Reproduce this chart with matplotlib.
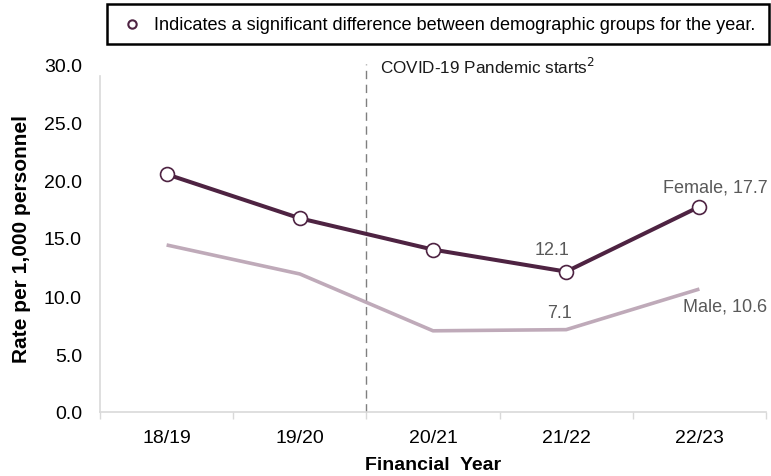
import matplotlib
matplotlib.use("Agg")
import matplotlib.pyplot as plt
from matplotlib.patches import Rectangle
from matplotlib.lines import Line2D

plt.rcParams['font.family'] = ['Liberation Sans', 'DejaVu Sans']

years = ["18/19", "19/20", "20/21", "21/22", "22/23"]
female = [20.5, 16.7, 14.0, 12.1, 17.7]
male = [14.4, 11.9, 7.0, 7.1, 10.6]
yticks = [0.0, 5.0, 10.0, 15.0, 20.0, 25.0, 30.0]

female_color = "#4e2342"
male_color = "#bfaab9"
label_color = "#595959"
axis_color = "#d9d9d9"

fig = plt.figure(figsize=(7.71, 4.77), dpi=100)
W, H = 771, 477
ax = fig.add_axes([100 / W, 1 - 413 / H, 666 / W, 348 / H])

x = list(range(len(years)))
ax.plot(x, male, color=male_color, lw=2.6, solid_capstyle='butt', zorder=2)
ax.plot(x, female, color=female_color, lw=2.9, zorder=3,
        marker='o', markersize=10, markerfacecolor='white',
        markeredgecolor=female_color, markeredgewidth=1.2)

ax.set_xlim(-0.5, len(years) - 0.5)
ax.set_ylim(0, 30)
ax.set_yticks(yticks)
ax.set_yticklabels([f"{v:.1f}" for v in yticks], fontsize=14)
ax.set_xticks(x)
ax.set_xticklabels(years, fontsize=14)
ax.tick_params(axis='x', length=0, pad=12)
ax.tick_params(axis='y', length=0, pad=13)
ax.set_xticks([i - 0.5 for i in range(len(years) + 1)], minor=True)
ax.tick_params(axis='x', which='minor', length=5, color=axis_color, width=1)

for side in ('top', 'right'):
    ax.spines[side].set_visible(False)
for side in ('left', 'bottom'):
    ax.spines[side].set_color(axis_color)
    ax.spines[side].set_linewidth(1.2)
ax.spines['left'].set_bounds(0, 29.0)

ax.set_ylabel("Rate per 1,000 personnel", fontsize=15, fontweight='bold', labelpad=9)
ax.set_xlabel("Financial  Year", fontsize=14, fontweight='bold', labelpad=7.5)

# pandemic marker
ax.plot([1.5, 1.5], [0, 30], color='#7f7f7f', lw=1, ls=(0, (6, 4)), zorder=1,
        clip_on=False)
ax.text(1.6, 29.8, r"COVID-19 Pandemic starts$^{2}$", fontsize=12.3,
        ha='left', va='center', color='#1a1a1a')

# value labels
ax.annotate(f"{female[3]:.1f}", (3, female[3]), xytext=(-10, 10),
            textcoords='offset points', ha='center', va='bottom',
            fontsize=13, color=label_color)
ax.annotate(f"{male[3]:.1f}", (3, male[3]), xytext=(-5, 6),
            textcoords='offset points', ha='center', va='bottom',
            fontsize=13, color=label_color)
ax.annotate(f"Female, {female[4]:.1f}", (4, female[4]), xytext=(49, 14),
            textcoords='offset points', ha='right', va='center',
            fontsize=13, color=label_color, annotation_clip=False)
ax.annotate(f"Male, {male[4]:.1f}", (4, male[4]), xytext=(49, -12),
            textcoords='offset points', ha='right', va='center',
            fontsize=13, color=label_color, annotation_clip=False)

# significance key box
fig.patches.append(Rectangle((107 / W, 1 - 45 / H), 662 / W, 40 / H,
                             transform=fig.transFigure, fill=False,
                             edgecolor='black', lw=1.8))
fig.lines.append(Line2D([132 / W], [1 - 25 / H], transform=fig.transFigure,
                        marker='o', markersize=6, markerfacecolor='white',
                        markeredgecolor=female_color, markeredgewidth=1.5,
                        linestyle='none'))
fig.text(154 / W, 1 - 25 / H,
         "Indicates a significant difference between demographic groups for the year.",
         fontsize=13.1, ha='left', va='center', color='black')

fig.savefig("out.png", dpi=100)
